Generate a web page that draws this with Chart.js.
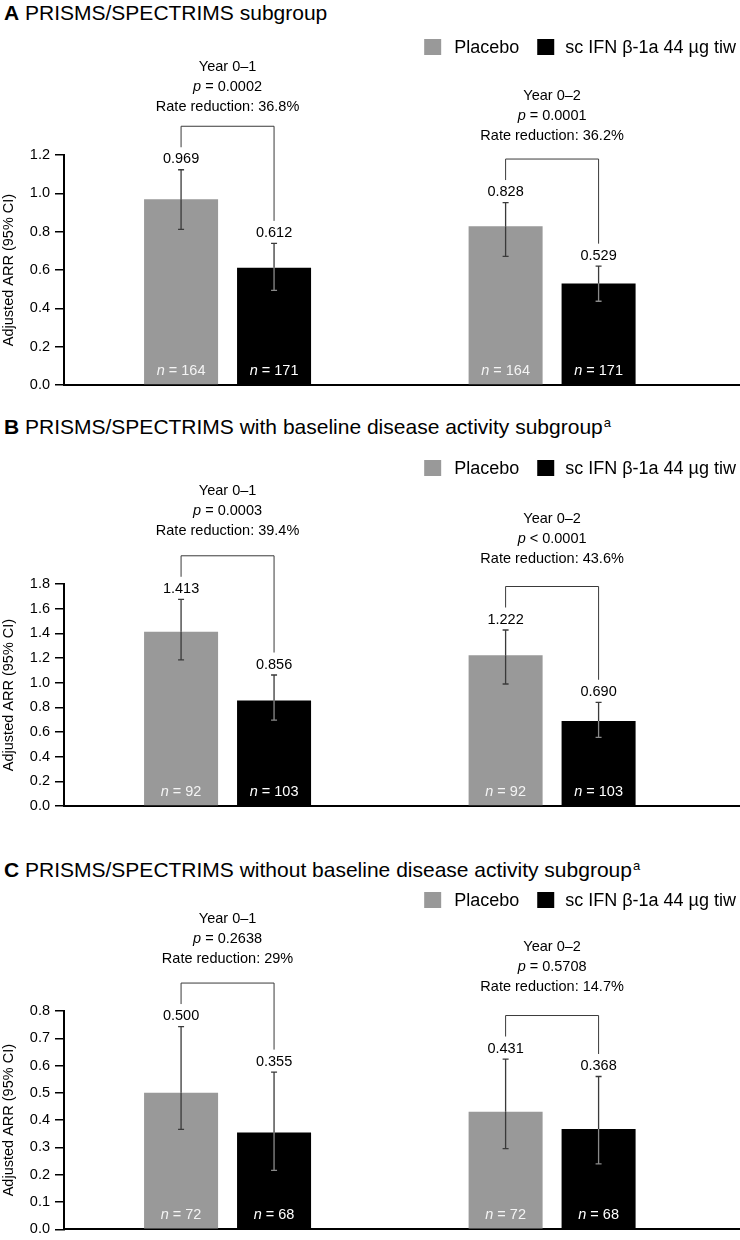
<!DOCTYPE html>
<html>
<head>
<meta charset="utf-8">
<script src="https://cdn.jsdelivr.net/npm/chart.js@4.4.1/dist/chart.umd.min.js"></script>
<style>
    html, body { margin: 0; padding: 0; background: #fff; }
    body {
        width: 740px; height: 1240px; position: relative; overflow: hidden;
        font-family: "Liberation Sans", Arial, Helvetica, sans-serif; color: #000;
    }
    .title { position: absolute; left: 4px; font-size: 21px; line-height: 24px; white-space: nowrap; }
    .title sup { font-size: 13px; vertical-align: 0; position: relative; top: -7px; margin-left: 1px; }
    .panel { position: absolute; left: 0; width: 740px; }
</style>
</head>
<body>
<div class="title" style="top:1px"><b>A</b> PRISMS/SPECTRIMS subgroup</div>
<div class="panel" style="top:20px;height:380px"><canvas id="chartA"></canvas></div>

<div class="title" style="top:415px"><b>B</b> PRISMS/SPECTRIMS with baseline disease activity subgroup<sup>a</sup></div>
<div class="panel" style="top:440px;height:380px"><canvas id="chartB"></canvas></div>

<div class="title" style="top:858px"><b>C</b> PRISMS/SPECTRIMS without baseline disease activity subgroup<sup>a</sup></div>
<div class="panel" style="top:880px;height:363px"><canvas id="chartC"></canvas></div>

<script>
// Shared
const periods = ["Year 0–1", "Year 0–2"];
const seriesLabels = ["Placebo", "sc IFN β-1a 44 µg tiw"];
const seriesColors = ["#999999", "#000000"];

// A: PRISMS/SPECTRIMS subgroup
const placeboA = [0.969, 0.828];
const ifnA = [0.612, 0.529];
const placeboCiA = [[0.812, 1.123], [0.671, 0.952]];
const ifnCiA = [[0.494, 0.739], [0.437, 0.620]];
const nA = [164, 171];
const pA = ["= 0.0002", "= 0.0001"];
const rateA = ["36.8%", "36.2%"];
const yMaxA = 1.2, yStepA = 0.2;

// B: with baseline disease activity
const placeboB = [1.413, 1.222];
const ifnB = [0.856, 0.690];
const placeboCiB = [[1.184, 1.676], [0.989, 1.427]];
const ifnCiB = [[0.697, 1.062], [0.557, 0.841]];
const nB = [92, 103];
const pB = ["= 0.0003", "< 0.0001"];
const rateB = ["39.4%", "43.6%"];
const yMaxB = 1.8, yStepB = 0.2;

// C: without baseline disease activity
const placeboC = [0.500, 0.431];
const ifnC = [0.355, 0.368];
const placeboCiC = [[0.366, 0.743], [0.296, 0.624]];
const ifnCiC = [[0.216, 0.576], [0.240, 0.560]];
const nC = [72, 68];
const pC = ["= 0.2638", "= 0.5708"];
const rateC = ["29%", "14.7%"];
const yMaxC = 0.8, yStepC = 0.1;

const FONT = "'Liberation Sans', Arial, Helvetica, sans-serif";
Chart.defaults.font.family = FONT;
Chart.defaults.color = "#000";

// draw pieces of text with some parts in italic, centred on cx
function drawMixed(ctx, parts, cx, cy, size) {
    let total = 0;
    parts.forEach((p) => {
        ctx.font = (p.italic ? "italic " : "") + size + "px " + FONT;
        p.w = ctx.measureText(p.text).width;
        total += p.w;
    });
    let x = cx - total / 2;
    ctx.textAlign = "left";
    ctx.textBaseline = "middle";
    parts.forEach((p) => {
        ctx.font = (p.italic ? "italic " : "") + size + "px " + FONT;
        ctx.fillText(p.text, x, cy);
        x += p.w;
    });
}

// error bars, value labels, n labels, brackets, p-values and legend
const panelDecor = {
    id: "panelDecor",
    afterDatasetsDraw(chart, args, opts) {
        const ctx = chart.ctx;
        const yScale = chart.scales.y;
        const area = chart.chartArea;
        const tops = [];
        ctx.save();

        chart.data.datasets.forEach((ds, i) => {
            const meta = chart.getDatasetMeta(i);
            tops[i] = [];
            meta.data.forEach((bar, g) => {
                const lo = yScale.getPixelForValue(ds.ci[g][0]);
                const hi = yScale.getPixelForValue(ds.ci[g][1]);
                tops[i][g] = { x: bar.x, y: hi };
                ctx.lineWidth = 1.3;
                ctx.strokeStyle = "#3a3a3a";
                ctx.beginPath();
                ctx.moveTo(bar.x, hi);
                ctx.lineTo(bar.x, Math.min(lo, bar.y));
                ctx.moveTo(bar.x - 3, hi);
                ctx.lineTo(bar.x + 3, hi);
                ctx.stroke();
                // part of the whisker inside the bar
                ctx.strokeStyle = i === 1 ? "#8a8a8a" : "#3a3a3a";
                ctx.beginPath();
                ctx.moveTo(bar.x, Math.max(hi, bar.y));
                ctx.lineTo(bar.x, lo);
                ctx.moveTo(bar.x - 3, lo);
                ctx.lineTo(bar.x + 3, lo);
                ctx.stroke();

                // value label
                ctx.fillStyle = "#000";
                ctx.font = "14.5px " + FONT;
                ctx.textAlign = "center";
                ctx.textBaseline = "middle";
                ctx.fillText(ds.data[g].y.toFixed(3), bar.x, hi - 10.5);

                // n label in the bar
                ctx.fillStyle = i === 0 ? "#f4f4f4" : "#fff";
                drawMixed(ctx, [{ text: "n", italic: true }, { text: " = " + ds.n }], bar.x, area.bottom - 14, 14.5);
            });
        });

        // brackets and comparison text
        periods.forEach((period, g) => {
            const a = tops[0][g], b = tops[1][g];
            const legA = a.y - 22.5, legB = b.y - 22.5;
            const top = Math.min(legA, legB) - 21;
            ctx.strokeStyle = "#3a3a3a";
            ctx.lineWidth = 1;
            ctx.beginPath();
            ctx.moveTo(a.x, legA);
            ctx.lineTo(a.x, top);
            ctx.lineTo(b.x, top);
            ctx.lineTo(b.x, legB);
            ctx.stroke();

            const cx = (a.x + b.x) / 2;
            const base = top - opts.textGap[g];
            ctx.fillStyle = "#000";
            drawMixed(ctx, [{ text: period }], cx, base - 40, 14.5);
            drawMixed(ctx, [{ text: "p", italic: true }, { text: " " + opts.p[g] }], cx, base - 20, 14.5);
            drawMixed(ctx, [{ text: "Rate reduction: " + opts.rate[g] }], cx, base, 14.5);
        });

        // legend, right aligned
        ctx.font = "18px " + FONT;
        ctx.textAlign = "left";
        ctx.textBaseline = "middle";
        const ly = opts.legendY;
        const w1 = ctx.measureText(seriesLabels[0]).width;
        const w2 = ctx.measureText(seriesLabels[1]).width;
        const t2 = 736 - w2;
        const b2 = t2 - 28;
        const t1 = b2 - 18 - w1;
        const b1 = t1 - 30;
        ctx.fillStyle = seriesColors[0];
        ctx.fillRect(b1, ly - 8, 17, 16);
        ctx.fillStyle = seriesColors[1];
        ctx.fillRect(b2, ly - 8, 17, 16);
        ctx.fillStyle = "#000";
        ctx.fillText(seriesLabels[0], t1, ly + 1);
        ctx.fillText(seriesLabels[1], t2, ly + 1);

        ctx.restore();
    },
};

function buildChart(canvasId, panel) {
    return new Chart(document.getElementById(canvasId), {
        type: "bar",
        data: {
            datasets: [{
                    label: seriesLabels[0],
                    data: panel.placebo.map((v, i) => ({ x: i + 1, y: v })),
                    ci: panel.placeboCi,
                    n: panel.n[0],
                    backgroundColor: seriesColors[0],
                },
                {
                    label: seriesLabels[1],
                    data: panel.ifn.map((v, i) => ({ x: i + 1, y: v })),
                    ci: panel.ifnCi,
                    n: panel.n[1],
                    backgroundColor: seriesColors[1],
                },
            ],
        },
        options: {
            responsive: true,
            maintainAspectRatio: false,
            animation: false,
            layout: {
                padding: { top: panel.padTop, bottom: panel.padBottom, left: 0, right: 0 },
            },
            datasets: {
                bar: { categoryPercentage: 0.573, barPercentage: 0.796, borderWidth: 0 },
            },
            scales: {
                x: {
                    type: "linear",
                    offset: false,
                    min: 0.496,
                    max: 2.579,
                    ticks: { display: false, stepSize: 1, includeBounds: false },
                    grid: { display: false, drawTicks: false },
                    border: { display: true, color: "#000", width: 2 },
                },
                y: {
                    min: 0,
                    max: panel.yMax,
                    ticks: {
                        stepSize: panel.yStep,
                        padding: 5,
                        color: "#000",
                        font: { size: 14.5 },
                        callback: (v) => Number(v).toFixed(1),
                    },
                    grid: { drawOnChartArea: false, drawTicks: true, tickLength: 9, color: "#000", lineWidth: 1.5 },
                    border: { display: true, color: "#000", width: 2 },
                    title: {
                        display: true,
                        text: "Adjusted ARR (95% CI)",
                        color: "#000",
                        font: { size: 14.5 },
                        padding: 0,
                    },
                    afterFit: (scale) => {
                        scale.width = 64;
                    },
                },
            },
            plugins: {
                legend: { display: false },
                tooltip: { enabled: false },
                panelDecor: { legendY: panel.legendY, p: panel.p, rate: panel.rate, textGap: panel.textGap },
            },
        },
        plugins: [panelDecor],
    });
}

buildChart("chartA", {
    placebo: placeboA, ifn: ifnA, placeboCi: placeboCiA, ifnCi: ifnCiA,
    n: nA, p: pA, rate: rateA, yMax: yMaxA, yStep: yStepA,
    padTop: 135, padBottom: 15, legendY: 27, textGap: [19, 23],
});
buildChart("chartB", {
    placebo: placeboB, ifn: ifnB, placeboCi: placeboCiB, ifnCi: ifnCiB,
    n: nB, p: pB, rate: rateB, yMax: yMaxB, yStep: yStepB,
    padTop: 144, padBottom: 14, legendY: 28, textGap: [25, 28],
});
buildChart("chartC", {
    placebo: placeboC, ifn: ifnC, placeboCi: placeboCiC, ifnCi: ifnCiC,
    n: nC, p: pC, rate: rateC, yMax: yMaxC, yStep: yStepC,
    padTop: 131, padBottom: 10, legendY: 20, textGap: [24, 29],
});
</script>
</body>
</html>
